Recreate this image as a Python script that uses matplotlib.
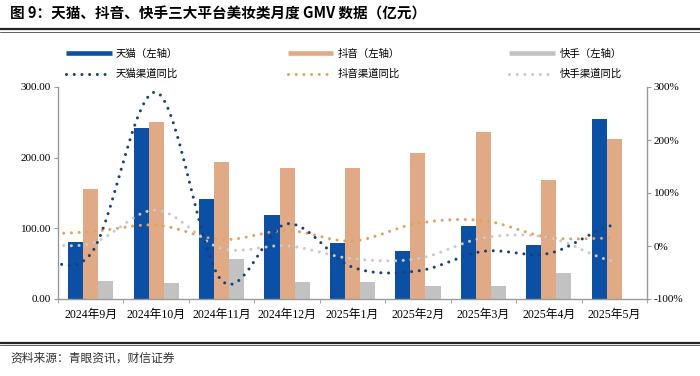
import numpy as np
import matplotlib
matplotlib.use("Agg")
import matplotlib.pyplot as plt
from matplotlib.lines import Line2D

# ---------------- data ----------------
months = ['2024年9月', '2024年10月', '2024年11月', '2024年12月', '2025年1月',
          '2025年2月', '2025年3月', '2025年4月', '2025年5月']
tmall_gmv = [80, 242, 142, 119, 79, 68, 104, 77, 255]
douyin_gmv = [155, 251, 194, 185, 185, 207, 237, 169, 226]
kuaishou_gmv = [25, 22, 56, 24, 24, 18, 18, 37, np.nan]

# YoY series (first value = 2024年8月, lies outside the visible plot area)
yoy_months = ['2024年8月'] + months
tmall_yoy = [-12, -15, 290, -65, 42, -40, -47, -10, -14, 40]
douyin_yoy = [22, 27, 39.5, 12, 29, 9.5, 43, 48, 16, 15]
kuaishou_yoy = [7, 4.5, 67.7, -4.7, 0.4, -24, -24, 15.4, 16, -29]

title = '图 9：天猫、抖音、快手三大平台美妆类月度 GMV 数据（亿元）'
source = '资料来源：青眼资讯，财信证券'

# ---------------- style ----------------
c_tmall_bar = '#0B50A5'
c_douyin_bar = '#DFAA85'
c_ks_bar = '#C2C2C2'
c_tmall_line = '#1A3F7C'
c_douyin_line = '#E2A160'
c_ks_line = '#CACACA'
axis_grey = '#9A9A9A'

cjk = 'Noto Sans CJK SC'
num_font = ['Liberation Serif', cjk]
plt.rcParams['font.family'] = [cjk, 'DejaVu Sans']


def smooth(xs, ys, n=60):
    xs = np.asarray(xs, float)
    ys = np.asarray(ys, float)
    k = len(ys)
    m = np.empty(k)
    m[1:-1] = (ys[2:] - ys[:-2]) / 2.0
    m[0] = (ys[1] - ys[0]) / 2.0
    m[-1] = (ys[-1] - ys[-2]) / 2.0
    ox, oy = [], []
    for i in range(k - 1):
        t = np.linspace(0, 1, n, endpoint=(i == k - 2))
        h00 = 2 * t**3 - 3 * t**2 + 1
        h10 = t**3 - 2 * t**2 + t
        h01 = -2 * t**3 + 3 * t**2
        h11 = t**3 - t**2
        oy.append(h00 * ys[i] + h10 * m[i] + h01 * ys[i + 1] + h11 * m[i + 1])
        ox.append(xs[i] + t * (xs[i + 1] - xs[i]))
    return np.concatenate(ox), np.concatenate(oy)


fig = plt.figure(figsize=(7.0, 3.76), dpi=100)
ax = fig.add_axes([58 / 700, 1 - 299 / 376, (647 - 58) / 700, (299 - 87) / 376])

x = np.arange(len(months))
w = 0.23
ax.bar(x - w, tmall_gmv, w, color=c_tmall_bar, zorder=2)
ax.bar(x, douyin_gmv, w, color=c_douyin_bar, zorder=2)
ax.bar(x + w, kuaishou_gmv, w, color=c_ks_bar, zorder=2)

ax.set_xlim(-0.5, len(months) - 0.5)
ax.set_ylim(0, 300)
ax.set_yticks([0, 100, 200, 300])
ax.set_yticklabels([f'{v:.2f}' for v in [0, 100, 200, 300]], fontfamily=num_font, fontsize=8)
ax.set_xticks(x)
ax.set_xticklabels(months, fontfamily=num_font, fontsize=8.5)
ax.set_xticks(np.arange(-0.5, len(months)), minor=True)
ax.tick_params(axis='x', which='major', length=0, pad=7)
ax.tick_params(axis='x', which='minor', length=3, color=axis_grey, direction='out')
ax.tick_params(axis='y', length=3, color=axis_grey, direction='out', pad=2)
for s in ['top', 'right']:
    ax.spines[s].set_visible(False)
for s in ['left', 'bottom']:
    ax.spines[s].set_color(axis_grey)
    ax.spines[s].set_linewidth(1.0)

ax2 = ax.twinx()
ax2.set_ylim(-100, 300)
ax2.set_yticks([-100, 0, 100, 200, 300])
ax2.set_yticklabels([f'{v}%' for v in [-100, 0, 100, 200, 300]], fontfamily=num_font, fontsize=8)
ax2.tick_params(axis='y', length=3, color=axis_grey, direction='out', pad=2)
for s in ['top', 'left', 'bottom']:
    ax2.spines[s].set_visible(False)
ax2.spines['right'].set_color(axis_grey)
ax2.spines['right'].set_linewidth(1.0)

xl = np.arange(len(yoy_months)) - 1
lw = 2.2
dots = (0, (0.001, 2.52))
for vals, col in [(douyin_yoy, c_douyin_line), (kuaishou_yoy, c_ks_line), (tmall_yoy, c_tmall_line)]:
    sx, sy = smooth(xl, vals)
    ax2.plot(sx, sy, color=col, lw=lw, linestyle=dots, dash_capstyle='round', zorder=3)

# legend
handles = [
    Line2D([], [], color=c_tmall_bar, lw=3.3, solid_capstyle='butt'),
    Line2D([], [], color=c_tmall_line, lw=lw, linestyle=dots, dash_capstyle='round'),
    Line2D([], [], color=c_douyin_bar, lw=3.3, solid_capstyle='butt'),
    Line2D([], [], color=c_douyin_line, lw=lw, linestyle=dots, dash_capstyle='round'),
    Line2D([], [], color=c_ks_bar, lw=3.3, solid_capstyle='butt'),
    Line2D([], [], color=c_ks_line, lw=lw, linestyle=dots, dash_capstyle='round'),
]
labels = ['天猫（左轴）', '天猫渠道同比', '抖音（左轴）', '抖音渠道同比', '快手（左轴）', '快手渠道同比']
fig.legend(handles, labels, ncol=3, loc='upper left', bbox_to_anchor=(66 / 700, 1 - 49 / 376),
           frameon=False, fontsize=7.5, handlelength=4.4, handletextpad=0.4,
           columnspacing=10.5, labelspacing=0.95, borderpad=0, borderaxespad=0)

# title & footer
fig.text(10 / 700, 1 - 14 / 376, title, fontsize=10.5, fontweight='bold', va='center', ha='left',
         fontfamily=[cjk, 'DejaVu Sans'])
fig.add_artist(Line2D([0, 1], [1 - 29 / 376] * 2, color='#222222', lw=1.6, transform=fig.transFigure))
fig.add_artist(Line2D([0, 1], [1 - 31.5 / 376] * 2, color='#222222', lw=0.5, transform=fig.transFigure))
fig.add_artist(Line2D([0, 1], [1 - 342.5 / 376] * 2, color='#222222', lw=1.6, transform=fig.transFigure))
fig.add_artist(Line2D([0, 1], [1 - 345 / 376] * 2, color='#222222', lw=0.5, transform=fig.transFigure))
fig.text(10 / 700, 1 - 358 / 376, source, fontsize=8.5, va='center', ha='left', color='#333333',
         style='italic', fontfamily=[cjk, 'DejaVu Sans'])

fig.savefig('out.png', dpi=100)
